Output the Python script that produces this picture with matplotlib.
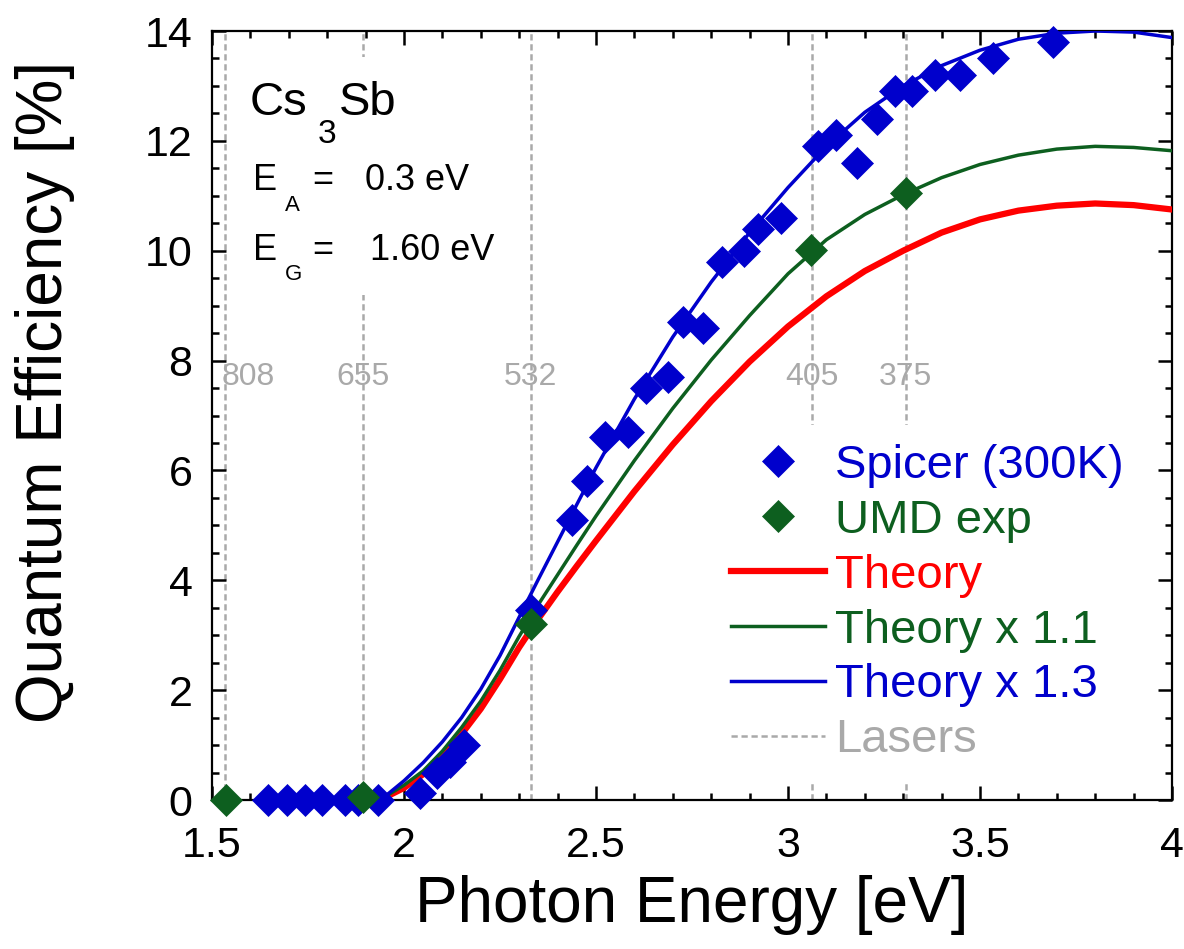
import numpy as np
import matplotlib
matplotlib.use('Agg')
import matplotlib.pyplot as plt
from matplotlib.ticker import MultipleLocator, FormatStrFormatter
from matplotlib.lines import Line2D
from matplotlib.patches import Rectangle

plt.rcParams['font.family'] = ['Liberation Sans', 'DejaVu Sans']

# Spicer (300K) measurements
spicer_e = [1.646, 1.695, 1.742, 1.786, 1.846, 1.880, 1.932, 2.042, 2.086, 2.120, 2.155,
            2.330, 2.438, 2.477, 2.523, 2.583, 2.630, 2.687, 2.727, 2.779, 2.828,
            2.885, 2.922, 2.982, 3.078, 3.125, 3.180, 3.232, 3.279, 3.323, 3.383,
            3.448, 3.534, 3.690]
spicer_qe = [0.0, 0.0, 0.0, 0.0, 0.0, 0.0, 0.0, 0.13, 0.5, 0.7, 1.0,
             3.45, 5.1, 5.8, 6.6, 6.7, 7.5, 7.7, 8.7, 8.6, 9.8,
             10.0, 10.4, 10.6, 11.9, 12.1, 11.6, 12.4, 12.9, 12.9, 13.2,
             13.2, 13.5, 13.8]

# UMD experiment
umd_e = [1.536, 1.893, 2.330, 3.061, 3.306]
umd_qe = [0.0, 0.05, 3.2, 10.02, 11.05]

# theory curves
theory_e = [1.96, 2.0, 2.05, 2.1, 2.15, 2.2, 2.25, 2.3, 2.35, 2.4, 2.45, 2.5, 2.6, 2.7,
            2.8, 2.9, 3.0, 3.1, 3.2, 3.3, 3.4, 3.5, 3.6, 3.7, 3.8, 3.9, 4.0]
theory = [0.08, 0.22, 0.47, 0.8, 1.2, 1.66, 2.2, 2.78, 3.3, 3.79, 4.26, 4.72, 5.62, 6.47,
          7.26, 7.98, 8.62, 9.17, 9.63, 10.0, 10.33, 10.57, 10.73, 10.82, 10.86, 10.83, 10.75]
theory_11 = [0.1, 0.27, 0.53, 0.89, 1.32, 1.8, 2.36, 2.98, 3.56, 4.1, 4.64, 5.17, 6.18, 7.13,
             8.01, 8.82, 9.58, 10.2, 10.66, 11.02, 11.33, 11.57, 11.74, 11.85, 11.9, 11.88, 11.82]
theory_13 = [0.12, 0.35, 0.68, 1.06, 1.5, 2.02, 2.63, 3.33, 4.02, 4.7, 5.38, 6.05, 7.3, 8.43,
             9.43, 10.33, 11.15, 11.9, 12.52, 13.0, 13.37, 13.65, 13.85, 13.96, 14.0, 13.98, 13.88]

# laser lines
laser_nm = [808, 655, 532, 405, 375]
laser_ev = [1239.84 / nm for nm in laser_nm]

blue = '#0000cc'
green = '#0d5f1f'
gray = '#a9a9a9'

fig = plt.figure(figsize=(11.84, 9.49), dpi=100)
ax = fig.add_axes([212 / 1184, 1 - 800 / 949, 960 / 1184, 769 / 949])

for nm, ev in zip(laser_nm, laser_ev):
    ax.axvline(ev, color=gray, lw=1.8, ls=(0, (2.5, 1.5)), zorder=1)
    if nm == 808:
        ax.text(ev - 0.01, 7.7, str(nm), color=gray, fontsize=23, ha='left', va='center', zorder=1)
    else:
        ax.text(ev, 7.7, str(nm), color=gray, fontsize=23, ha='center', va='center', zorder=1)

# white box behind the material annotation
ax.add_patch(Rectangle((1.575, 9.19), 0.695, 4.34, facecolor='white', edgecolor='none', zorder=1.5))

ax.plot(theory_e, theory, color='red', lw=4.5, zorder=3)
ax.plot(theory_e, theory_11, color=green, lw=2.5, zorder=3.1)
ax.plot(theory_e, theory_13, color=blue, lw=2.5, zorder=3.2)
ax.plot(spicer_e, spicer_qe, 'D', color=blue, ms=16, mew=0.5, ls='none', clip_on=False, zorder=5)
ax.plot(umd_e, umd_qe, 'D', color=green, ms=16, mew=0.5, ls='none', clip_on=False, zorder=6)

# annotation
ax.text(1.599, 12.47, 'Cs', fontsize=34, zorder=2)
ax.text(1.775, 11.96, '3', fontsize=24, zorder=2)
ax.text(1.83, 12.47, 'Sb', fontsize=34, zorder=2)
ax.text(1.607, 11.1, 'E', fontsize=26, zorder=2)
ax.text(1.69, 10.72, 'A', fontsize=16, zorder=2)
ax.text(1.76, 11.1, '=', fontsize=26, zorder=2)
ax.text(1.898, 11.1, '0.3 eV', fontsize=26, zorder=2)
ax.text(1.607, 9.83, 'E', fontsize=26, zorder=2)
ax.text(1.69, 9.47, 'G', fontsize=16, zorder=2)
ax.text(1.76, 9.83, '=', fontsize=26, zorder=2)
ax.text(1.911, 9.83, '1.60 eV', fontsize=26, zorder=2)

handles = [
    Line2D([], [], marker='D', color=blue, ms=16, mew=0.5, ls='none'),
    Line2D([], [], marker='D', color=green, ms=16, mew=0.5, ls='none'),
    Line2D([], [], color='red', lw=4.5),
    Line2D([], [], color=green, lw=2.5),
    Line2D([], [], color=blue, lw=2.5),
    Line2D([], [], color=gray, lw=1.8, ls=(0, (2.5, 1.5))),
]
labels = ['Spicer (300K)', 'UMD exp', 'Theory', 'Theory x 1.1', 'Theory x 1.3', 'Lasers']
leg = ax.legend(handles, labels, loc='upper left', bbox_to_anchor=(0.5206, 0.4876),
                fontsize=34, frameon=True, fancybox=False, framealpha=1,
                borderpad=0.4, borderaxespad=0, handlelength=2.0,
                handletextpad=0.21, labelspacing=0.23)
leg.get_frame().set_facecolor('white')
leg.get_frame().set_edgecolor('none')
leg.set_zorder(4)
for txt, c in zip(leg.get_texts(), [blue, green, 'red', green, blue, gray]):
    txt.set_color(c)

ax.set_xlim(1.5, 4)
ax.set_ylim(0, 14)
ax.xaxis.set_major_locator(MultipleLocator(0.5))
ax.xaxis.set_minor_locator(MultipleLocator(0.1))
ax.yaxis.set_major_locator(MultipleLocator(2))
ax.yaxis.set_minor_locator(MultipleLocator(0.5))
ax.xaxis.set_major_formatter(FormatStrFormatter('%g'))
ax.tick_params(which='both', direction='in', top=True, right=True, width=1.8, labelsize=31)
ax.tick_params(which='major', length=10)
ax.tick_params(which='minor', length=5)
ax.tick_params(axis='x', which='major', pad=19)
ax.tick_params(axis='y', which='major', pad=14)
for s in ax.spines.values():
    s.set_linewidth(1.6)

ax.set_xlabel('Photon Energy [eV]', fontsize=46, labelpad=6)
ax.set_ylabel('Quantum Efficiency [%]', fontsize=46, labelpad=50, y=0.53)

fig.savefig('out.png', dpi=100)
